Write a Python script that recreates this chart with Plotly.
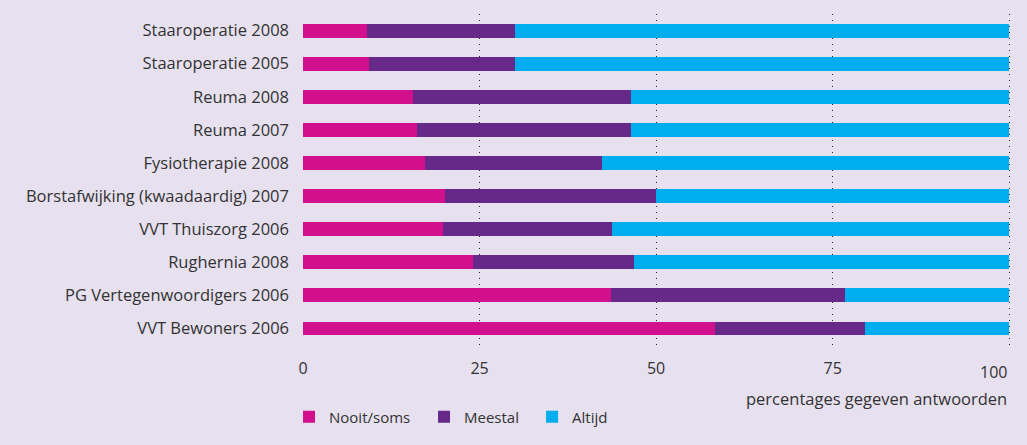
import plotly.graph_objects as go

categories = [
    "Staaroperatie 2008",
    "Staaroperatie 2005",
    "Reuma 2008",
    "Reuma 2007",
    "Fysiotherapie 2008",
    "Borstafwijking (kwaadaardig) 2007",
    "VVT Thuiszorg 2006",
    "Rughernia 2008",
    "PG Vertegenwoordigers 2006",
    "VVT Bewoners 2006",
]
nooit_soms = [9.1, 9.3, 15.6, 16.1, 17.3, 20.1, 19.8, 24.1, 43.6, 58.4]
meestal = [20.9, 20.7, 30.9, 30.4, 25.1, 29.9, 24.0, 22.8, 33.2, 21.2]
altijd = [70.0, 70.0, 53.5, 53.5, 57.6, 50.0, 56.2, 53.1, 23.2, 20.4]
x_ticks = [0, 25, 50, 75, 100]

series = [
    ("Nooit/soms", nooit_soms, "#D20F8C", "legend", -0.0197),
    ("Meestal", meestal, "#66298A", "legend2", 0.1707),
    ("Altijd", altijd, "#00AEEF", "legend3", 0.3231),
]

FONT = "Open Sans"
TXT = "#333333"
BG = "#E6E0EF"

fig = go.Figure()
for name, vals, col, leg, _ in series:
    fig.add_trace(go.Bar(
        y=categories, x=vals, name=name, orientation="h",
        marker=dict(color=col, line=dict(width=0)), legend=leg,
    ))

legend_common = dict(
    orientation="h", xanchor="left", y=-0.2175, yanchor="middle",
    font=dict(size=15, color=TXT), bgcolor="rgba(0,0,0,0)",
)
legends = {}
for name, vals, col, leg, lx in series:
    legends[leg] = dict(x=lx, **legend_common)

fig.update_layout(
    barmode="stack",
    bargap=0.58,
    width=1027, height=445,
    paper_bgcolor=BG, plot_bgcolor=BG,
    margin=dict(l=303, r=15, t=14, b=100, autoexpand=False),
    font=dict(family=FONT, size=16, color=TXT),
    xaxis=dict(
        range=[0, 100.4], tickvals=x_ticks,
        ticktext=[str(v) if v != 100 else "" for v in x_ticks],
        showgrid=True, gridcolor="#222222", griddash="1px,5px", gridwidth=1.3,
        zeroline=False, showline=False, ticks="", ticklabelstandoff=12,
        tickfont=dict(size=16, color=TXT), automargin=False,
    ),
    yaxis=dict(
        autorange="reversed", showgrid=False, zeroline=False, showline=False,
        ticks="", ticklabelstandoff=13, tickfont=dict(size=16.5, color=TXT),
        automargin=False,
    ),
    showlegend=True,
    **legends,
)

# last x tick label sits flush right against its gridline
fig.add_annotation(
    text=str(x_ticks[-1]), xref="x", yref="paper",
    x=x_ticks[-1], y=0, yshift=-14, xanchor="right", yanchor="top",
    showarrow=False, font=dict(size=16, color=TXT),
)

fig.add_annotation(
    text="percentages gegeven antwoorden", xref="x", yref="paper",
    x=x_ticks[-1], y=-0.12, xanchor="right", yanchor="top", showarrow=False,
    font=dict(size=16.5, color=TXT),
)

fig.write_html(
    "out.html",
    config={"displayModeBar": False},
    post_script="document.body.style.margin='0';document.body.style.background='#E6E0EF';",
)
